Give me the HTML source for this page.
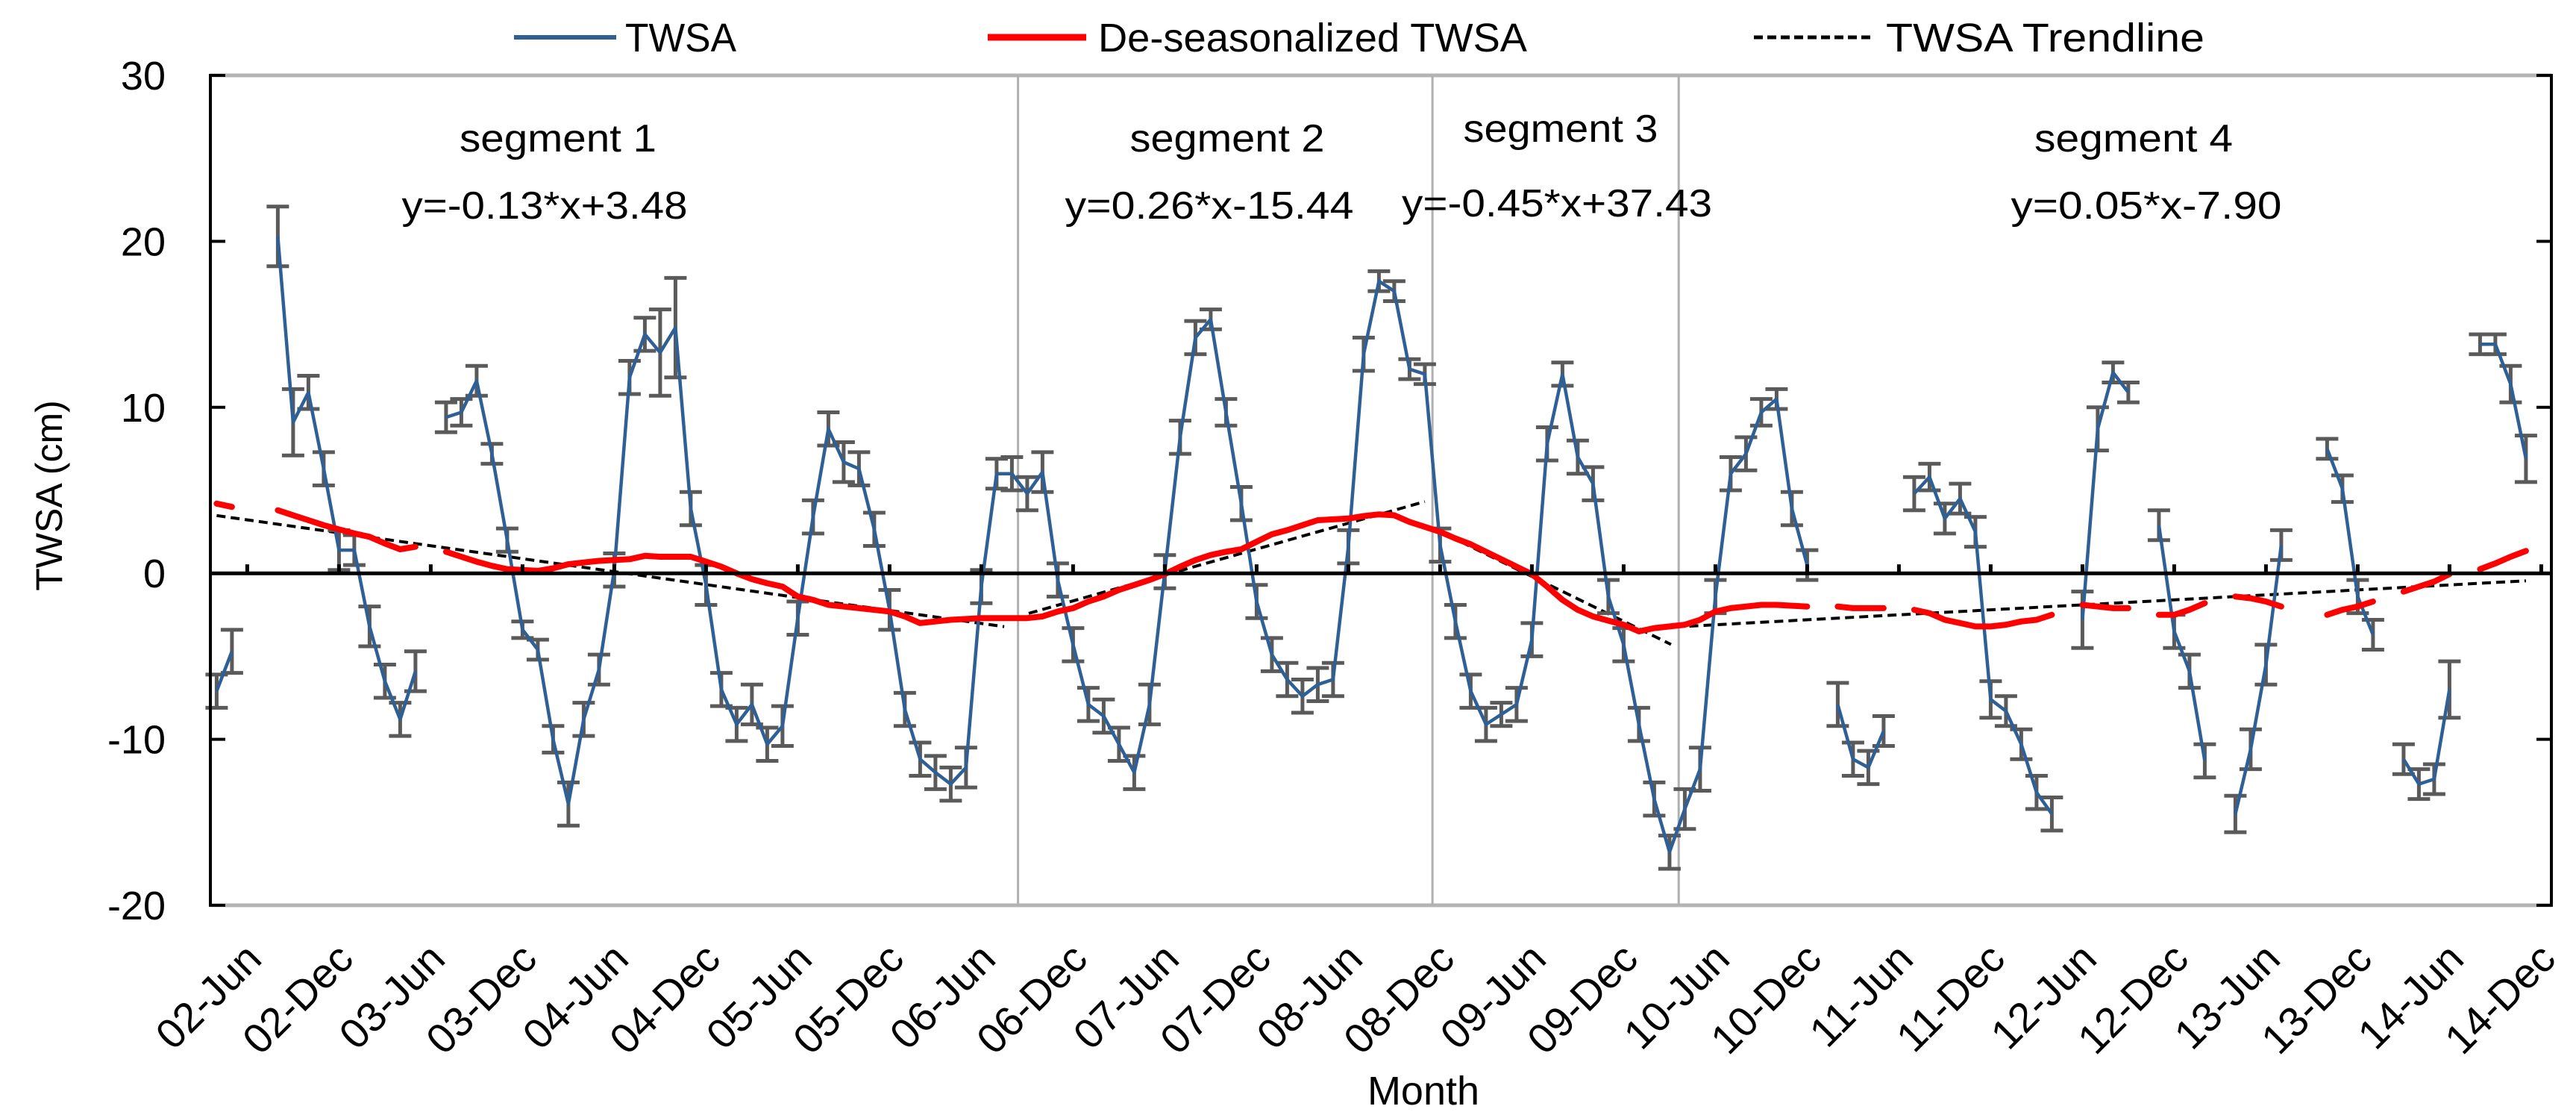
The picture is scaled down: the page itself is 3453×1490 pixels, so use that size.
<!DOCTYPE html>
<html><head><meta charset="utf-8"><style>
html,body{margin:0;padding:0;background:#fff;}
svg{display:block;font-family:"Liberation Sans",Arial,sans-serif;}
</style></head><body>
<svg id="chart" width="3453" height="1490" viewBox="0 0 3453 1490" xmlns="http://www.w3.org/2000/svg">
<rect x="0" y="0" width="3453" height="1490" fill="#fff"/>
<g id="grid"></g>
<g id="marks"></g>
<g id="axes"></g>
<g>
  <line x1="689" y1="50" x2="826" y2="50" stroke="#2E6096" stroke-width="6"/>
  <text x="838" y="69" font-size="54" textLength="149" lengthAdjust="spacingAndGlyphs">TWSA</text>
  <line x1="1324" y1="50" x2="1456" y2="50" stroke="#FF0000" stroke-width="9"/>
  <text x="1472" y="69" font-size="54" textLength="575" lengthAdjust="spacingAndGlyphs">De-seasonalized TWSA</text>
  <line x1="2351" y1="50" x2="2512" y2="50" stroke="#000" stroke-width="5" stroke-dasharray="12,6"/>
  <text x="2528" y="69" font-size="54" textLength="427" lengthAdjust="spacingAndGlyphs">TWSA Trendline</text>
</g>
<g>
  <text x="748" y="203" font-size="52" text-anchor="middle" textLength="264" lengthAdjust="spacingAndGlyphs">segment 1</text>
  <text x="730" y="293" font-size="52" text-anchor="middle" textLength="383" lengthAdjust="spacingAndGlyphs">y=-0.13*x+3.48</text>
  <text x="1645" y="203" font-size="52" text-anchor="middle" textLength="261" lengthAdjust="spacingAndGlyphs">segment 2</text>
  <text x="1621" y="293" font-size="52" text-anchor="middle" textLength="387" lengthAdjust="spacingAndGlyphs">y=0.26*x-15.44</text>
  <text x="2092" y="190" font-size="52" text-anchor="middle" textLength="261" lengthAdjust="spacingAndGlyphs">segment 3</text>
  <text x="2087" y="290" font-size="52" text-anchor="middle" textLength="416" lengthAdjust="spacingAndGlyphs">y=-0.45*x+37.43</text>
  <text x="2860" y="203" font-size="52" text-anchor="middle" textLength="266" lengthAdjust="spacingAndGlyphs">segment 4</text>
  <text x="2877" y="293" font-size="52" text-anchor="middle" textLength="363" lengthAdjust="spacingAndGlyphs">y=0.05*x-7.90</text>
</g>
<text x="66" y="664" font-size="50" text-anchor="middle" transform="rotate(-90 66 664)" dy="17">TWSA (cm)</text>
<text x="1908" y="1480" font-size="54" text-anchor="middle">Month</text>
</svg>
<script>
// months since Apr 2002 (index) ; null = missing month
const twsa = [-7.1,-4.7,null,null,20.3,9.1,10.9,6.3,1.4,1.4,-3.2,-6.5,-8.8,-5.9,null,9.4,9.7,11.6,7.2,2.0,
-3.4,-4.6,-10.0,-13.9,-8.8,-5.8,0.2,11.8,14.4,13.3,14.8,3.9,-0.7,-7.0,-9.1,-7.9,-10.3,-9.2,-2.7,3.4,
8.7,6.7,6.3,2.65,-2.2,-8.2,-11.2,-12.0,-12.7,-11.7,-0.8,6.0,6.0,4.8,6.1,-0.4,-4.3,-7.9,-8.6,-10.3,
-12.0,-7.9,0.1,8.2,14.2,15.3,9.7,4.2,-1.7,-4.9,-6.4,-7.4,-6.7,-6.4,1.6,13.2,17.6,17.0,12.3,12.0,
1.7,-2.9,-7.1,-9.1,-8.5,-7.9,-4.0,7.8,12.0,7.0,5.4,-1.4,-4.3,-9.1,-13.6,-16.8,-14.2,-11.8,-1.4,6.0,
7.2,9.7,10.5,3.9,0.5,null,-7.9,-11.2,-11.7,-9.5,null,4.8,5.8,3.3,4.5,2.5,-7.6,-8.3,-10.3,-13.2,
-14.5,null,-2.8,8.7,12.1,10.9,null,2.9,-3.5,-5.9,-11.3,null,-14.5,-10.6,-5.5,1.7,null,null,7.5,5.1,
-1.4,-3.7,null,-11.2,-12.7,-12.4,-7.0,null,13.8,13.8,11.4,6.9];
const errs = [1.0,1.3,0,0,1.8,2.0,1.0,1.0,1.2,0.9,1.2,1.0,1.0,1.2,0,0.9,0.8,0.9,0.6,0.7,
0.5,0.6,0.8,1.3,1.0,0.9,1.0,1.0,1.0,2.6,3.0,1.0,1.2,1.0,1.0,1.2,1.0,1.2,1.0,1.0,
1.0,1.2,1.0,1.0,1.2,1.0,1.0,1.0,1.0,1.2,1.0,0.9,1.0,1.0,1.2,1.0,1.0,1.0,1.0,1.0,
1.0,1.2,1.0,1.0,1.0,0.6,0.8,1.0,1.0,1.0,1.0,1.0,1.0,1.0,1.0,1.0,0.6,0.6,0.6,0.6,
1.0,1.0,1.0,1.0,0.7,1.0,1.0,1.0,0.7,1.0,1.0,1.0,1.0,1.0,1.0,1.0,1.2,1.3,1.0,1.0,
1.0,0.8,0.6,1.0,0.9,0,1.3,1.0,1.0,0.9,0,1.0,0.8,0.9,0.9,0.9,1.1,0.9,0.9,1.0,
1.0,0,1.7,1.3,0.6,0.6,0,0.9,1.0,1.0,1.0,0,1.1,1.2,1.2,0.9,0,0,0.6,0.8,
1.0,0.9,0,0.9,0.9,0.9,1.7,0,0.6,0.6,1.1,1.4];
const deseason = [4.2,4.0,null,null,3.8,3.5,3.2,2.9,2.65,2.4,2.2,1.8,1.45,1.6,null,1.3,1.0,0.7,0.45,0.25,
0.2,0.15,0.3,0.55,0.65,0.75,0.8,0.85,1.05,1.0,1.0,1.0,0.7,0.4,0.0,-0.35,-0.6,-0.8,-1.4,-1.6,
-1.9,-2.0,-2.1,-2.2,-2.3,-2.6,-3.0,-2.9,-2.8,-2.75,-2.7,-2.7,-2.7,-2.7,-2.6,-2.3,-2.1,-1.7,-1.4,-1.0,
-0.7,-0.4,-0.05,0.4,0.8,1.1,1.3,1.45,1.9,2.35,2.6,2.9,3.2,3.25,3.3,3.45,3.55,3.5,3.1,2.8,
2.5,2.1,1.75,1.3,0.85,0.4,-0.05,-0.8,-1.6,-2.2,-2.6,-2.85,-3.1,-3.5,-3.3,-3.2,-3.1,-2.8,-2.3,-2.1,
-2.0,-1.9,-1.9,-1.95,-2.0,null,-2.0,-2.1,-2.1,-2.1,null,-2.2,-2.4,-2.8,-3.0,-3.2,-3.2,-3.1,-2.9,-2.8,
-2.5,null,-1.9,-2.0,-2.1,-2.1,null,-2.5,-2.5,-2.2,-1.8,null,-1.4,-1.5,-1.7,-2.0,null,null,-2.5,-2.2,
-2.0,-1.7,null,-1.1,-0.8,-0.5,-0.05,null,0.25,0.6,1.0,1.35];
// trend segments
const segStart = [0, 53.1, 79.7, 96.3];
const segEnd = [51.5, 79, 95.1, 151];
const segSlope = [-0.13, 0.26, -0.45, 0.05];
const segIntercept = [3.48, -15.44, 37.43, -7.90];
const segXOffset = [0, 3, 2.4, 2];
const segDividers = [52.4, 79.5, 95.6];
const yTicks = [-20, -10, 0, 10, 20, 30];
const xLabels = ["02-Jun","02-Dec","03-Jun","03-Dec","04-Jun","04-Dec","05-Jun","05-Dec","06-Jun","06-Dec",
"07-Jun","07-Dec","08-Jun","08-Dec","09-Jun","09-Dec","10-Jun","10-Dec","11-Jun","11-Dec","12-Jun","12-Dec",
"13-Jun","13-Dec","14-Jun","14-Dec"];
const xLabelStart = 2, xLabelStep = 6;

const NS = "http://www.w3.org/2000/svg";
const L = 282, R = 3420, T = 101, B = 1213;
const yMin = -20, yMax = 30;
function X(m){ return 290.4 + 20.5 * m; }
function Y(v){ return B - (v - yMin) / (yMax - yMin) * (B - T); }
function mk(tag, attrs, parent){ const e = document.createElementNS(NS, tag); for (const k in attrs) e.setAttribute(k, attrs[k]); parent.appendChild(e); return e; }
const grid = document.getElementById('grid'), marks = document.getElementById('marks'), axes = document.getElementById('axes');

// frame
let e;
e = mk('line', {x1:L, y1:T, x2:R, y2:T, stroke:'#B4B4B4', 'stroke-width':5}, grid);


e = mk('line', {x1:L, y1:B, x2:R, y2:B, stroke:'#B4B4B4', 'stroke-width':5}, grid);


segDividers.forEach(function(m){
  const d = mk('line', {x1:X(m), y1:T, x2:X(m), y2:B, stroke:'#B0B0B0', 'stroke-width':3}, grid);
  
  
});

// y axis + right axis
e = mk('line', {x1:L, y1:T-2, x2:L, y2:B+2, stroke:'#000', 'stroke-width':4}, axes);


e = mk('line', {x1:R, y1:T-2, x2:R, y2:B+2, stroke:'#000', 'stroke-width':4}, axes);


yTicks.forEach(function(v){
  const t1 = mk('line', {x1:L, y1:Y(v), x2:L+20, y2:Y(v), stroke:'#000', 'stroke-width':4}, axes);
  
  
  const t2 = mk('line', {x1:R-20, y1:Y(v), x2:R, y2:Y(v), stroke:'#000', 'stroke-width':4}, axes);
  
  
  const lb = mk('text', {x:222, y:Y(v)+19, 'font-size':54, 'text-anchor':'end'}, axes);
  lb.textContent = String(v);
  
  
});
// zero line
e = mk('line', {x1:L, y1:Y(0), x2:R, y2:Y(0), stroke:'#000', 'stroke-width':5}, axes);


xLabels.forEach(function(s, i){
  const m = xLabelStart + i * xLabelStep;
  const tk = mk('line', {x1:X(m), y1:Y(0), x2:X(m), y2:Y(0)-12, stroke:'#000', 'stroke-width':5}, axes);
  
  
  const px = X(m) + 22, py = 1288;
  const lb = mk('text', {x:px, y:py, 'font-size':56, 'text-anchor':'end', transform:'rotate(-45 '+px+' '+py+')'}, axes);
  lb.textContent = s;
  
  
});

// series path helper
function pathFor(arr){
  let d = '', pen = false;
  arr.forEach(function(v, m){
    if (v === null) { pen = false; return; }
    d += (pen ? 'L' : 'M') + X(m).toFixed(1) + ' ' + Y(v).toFixed(1) + ' ';
    pen = true;
  });
  return d;
}
// trendlines
segStart.forEach(function(s, i){
  const f = function(m){ return segSlope[i] * (m - segXOffset[i]) + segIntercept[i]; };
  const tl = mk('line', {x1:X(s), y1:Y(f(s)), x2:X(segEnd[i]), y2:Y(f(segEnd[i])), stroke:'#000', 'stroke-width':4, 'stroke-dasharray':'12,7'}, marks);
  
  
});
// error bars
twsa.forEach(function(v, m){
  if (v === null) return;
  const x = X(m), e1 = errs[m];
  const g = mk('path', {d:'M'+x+' '+Y(v-e1)+'V'+Y(v+e1)+'M'+(x-15)+' '+Y(v-e1)+'h30M'+(x-15)+' '+Y(v+e1)+'h30', stroke:'#5A5A5A', 'stroke-width':5, fill:'none'}, marks);
  
  
});
// twsa line
e = mk('path', {d:pathFor(twsa), stroke:'#2E6096', 'stroke-width':4.5, fill:'none', 'stroke-linejoin':'round'}, marks);


// deseasonalized line
e = mk('path', {d:pathFor(deseason), stroke:'#FF0000', 'stroke-width':8, fill:'none', 'stroke-linejoin':'round', 'stroke-linecap':'round'}, marks);


</script>
</body></html>
